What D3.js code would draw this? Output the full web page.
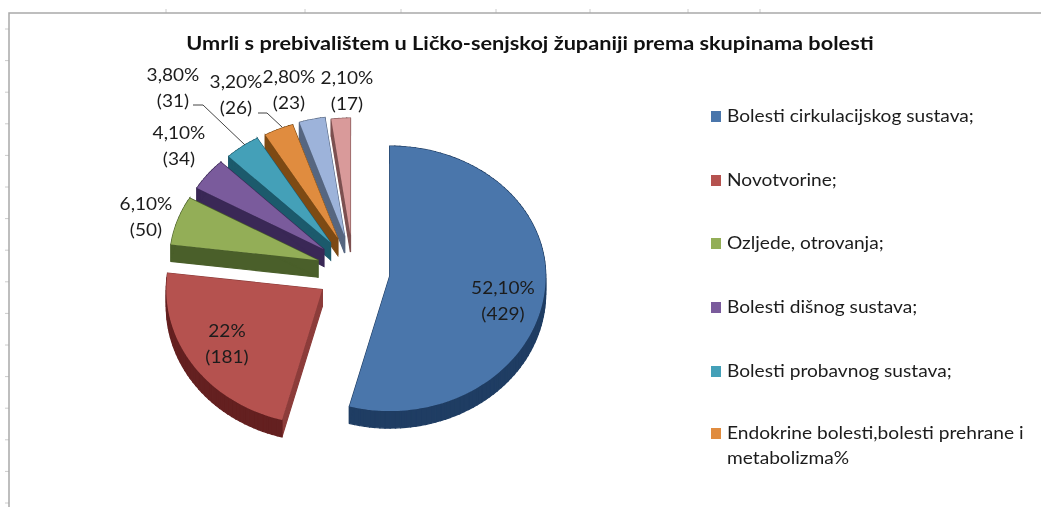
<!DOCTYPE html>
<html><head><meta charset="utf-8">
<script src="https://cdnjs.cloudflare.com/ajax/libs/d3/7.8.5/d3.min.js"></script>
<style>html,body{margin:0;padding:0;background:#fff}svg{display:block;filter:blur(.4px)}text{font-family:Lato,"Open Sans",sans-serif;fill:#1c1c1c}</style>
</head><body><svg id="c" width="1041" height="507"></svg>
<script>
const title = "Umrli s prebivalištem u Ličko-senjskoj županiji prema skupinama bolesti";
const percents = [52.1,22,6.1,4.1,3.8,3.2,2.8,2.1];
const counts = [429,181,50,34,31,26,23,17];
const percentLabels = ["52,10%","22%","6,10%","4,10%","3,80%","3,20%","2,80%","2,10%"];
const legendNames = ["Bolesti cirkulacijskog sustava;","Novotvorine;","Ozljede, otrovanja;","Bolesti dišnog sustava;","Bolesti probavnog sustava;","Endokrine bolesti,bolesti prehrane i"];
const topColors = ["#4a76ab","#b5524f","#93ae57","#7a5b9c","#44a0b8","#e08c3f","#9db3da","#d99a9a"];
const wallColors = ["#1f3d63","#8c3c3a","#4a5f2a","#3a2856","#1c5a6c","#7d4a14","#566680","#7c5050"];
const rimColors = ["#1f3d63","#642020","#4a5f2a","#3a2856","#1c5a6c","#7d4a14","#566680","#7c5050"];
const radiusFactor = [1,1,.95,.94,.93,.92,.92,.9];
const labelPos = [[503,288],[227,331],[146,204],[179,133],[173,75],[236,82],[289,77],[347,78]];
const leaders = [[[193,105],[203,105],[245,145]],[[258,113],[267,113],[282,127]]];
const legendY = [116,180,243,307,371,433];
const topTicks = [166,305,401,496,590,688,760];

const cx=353,cy=272,rx=156,ry=130,ryFront=135,explode=37,depth=17;
const svg=d3.select("#c");
const axisY=d3.scaleLinear().domain([0,15]).range([29,503]);
const frame=svg.append("g");
frame.selectAll(".ty").data(d3.range(16)).join("line").attr("x1",5).attr("x2",9).attr("y1",d=>axisY(d)).attr("y2",d=>axisY(d)).attr("stroke","#ccc");
frame.selectAll(".tx").data(topTicks).join("line").attr("x1",d=>d).attr("x2",d=>d).attr("y1",9).attr("y2",13).attr("stroke","#ccc");
frame.append("path").attr("fill","none").attr("stroke","#a9a9a9").attr("stroke-width",1.5).attr("d","M9,507V13H1041");

const pie=d3.pie().sort(null).value(d=>d)(percents);
function project(X,Y){return [X, Y>0?-Y:-Y*.85];}
const polys=pie.map((p,i)=>{
  const mid=(p.startAngle+p.endAngle)/2;
  const o=project(explode*Math.sin(mid),explode*Math.cos(mid));
  const ax=cx+o[0],ay=cy+o[1],f=radiusFactor[i];
  const n=Math.max(4,Math.ceil((p.endAngle-p.startAngle)*30));
  const pts=[[ax,ay]];
  d3.range(n+1).forEach(k=>{
    const a=p.startAngle+(p.endAngle-p.startAngle)*k/n, c=Math.cos(a);
    pts.push([ax+rx*f*Math.sin(a),ay-(c<0?ryFront:ry)*f*c]);
  });
  return {i,pts};
});
const line=d3.line();
const g=svg.append("g");
polys.slice().reverse().forEach(({i,pts})=>{
  const s=g.append("g");
  pts.forEach((q,k)=>{
    const r=pts[(k+1)%pts.length];
    const isCut=k===0||k===pts.length-1;
    const col=isCut?wallColors[i]:rimColors[i];
    const quad=[q,r,[r[0],r[1]+depth],[q[0],q[1]+depth]];
    s.append("path").attr("d",line(quad)+"Z").attr("fill",col).attr("stroke",col).attr("stroke-width",1.2);
  });
  s.append("path").attr("d",line(pts)+"Z").attr("fill",topColors[i]);
});
svg.append("g").selectAll("path").data(leaders).join("path").attr("d",d=>line(d)).attr("fill","none").attr("stroke","#444").attr("stroke-width",1);

function stretch(sel,factor){
  sel.each(function(){
    const w=this.getComputedTextLength();
    d3.select(this).attr("textLength",w*factor).attr("lengthAdjust","spacingAndGlyphs");
  });
}
const lab=svg.append("g").attr("text-anchor","middle").style("font-size","17px");
pie.forEach((p,i)=>{
  const [x,y]=labelPos[i];
  stretch(lab.append("text").attr("x",x).attr("y",y+6).text(percentLabels[i]),1.12);
  stretch(lab.append("text").attr("x",x).attr("y",y+32).text("("+counts[i]+")"),1.12);
});
stretch(svg.append("text").attr("x",530).attr("y",50).attr("text-anchor","middle").style("font-size","19.5px").style("font-weight",700).style("fill","#111").text(title),1.113);
const leg=svg.append("g").style("font-size","16.5px");
legendNames.forEach((d,i)=>{
  leg.append("rect").attr("x",711).attr("y",legendY[i]-5).attr("width",10).attr("height",11).attr("fill",topColors[i]);
  stretch(leg.append("text").attr("x",727).attr("y",legendY[i]+6).text(d),1.16);
});
stretch(leg.append("text").attr("x",727).attr("y",464).text("metabolizma%"),1.16);
</script></body></html>
